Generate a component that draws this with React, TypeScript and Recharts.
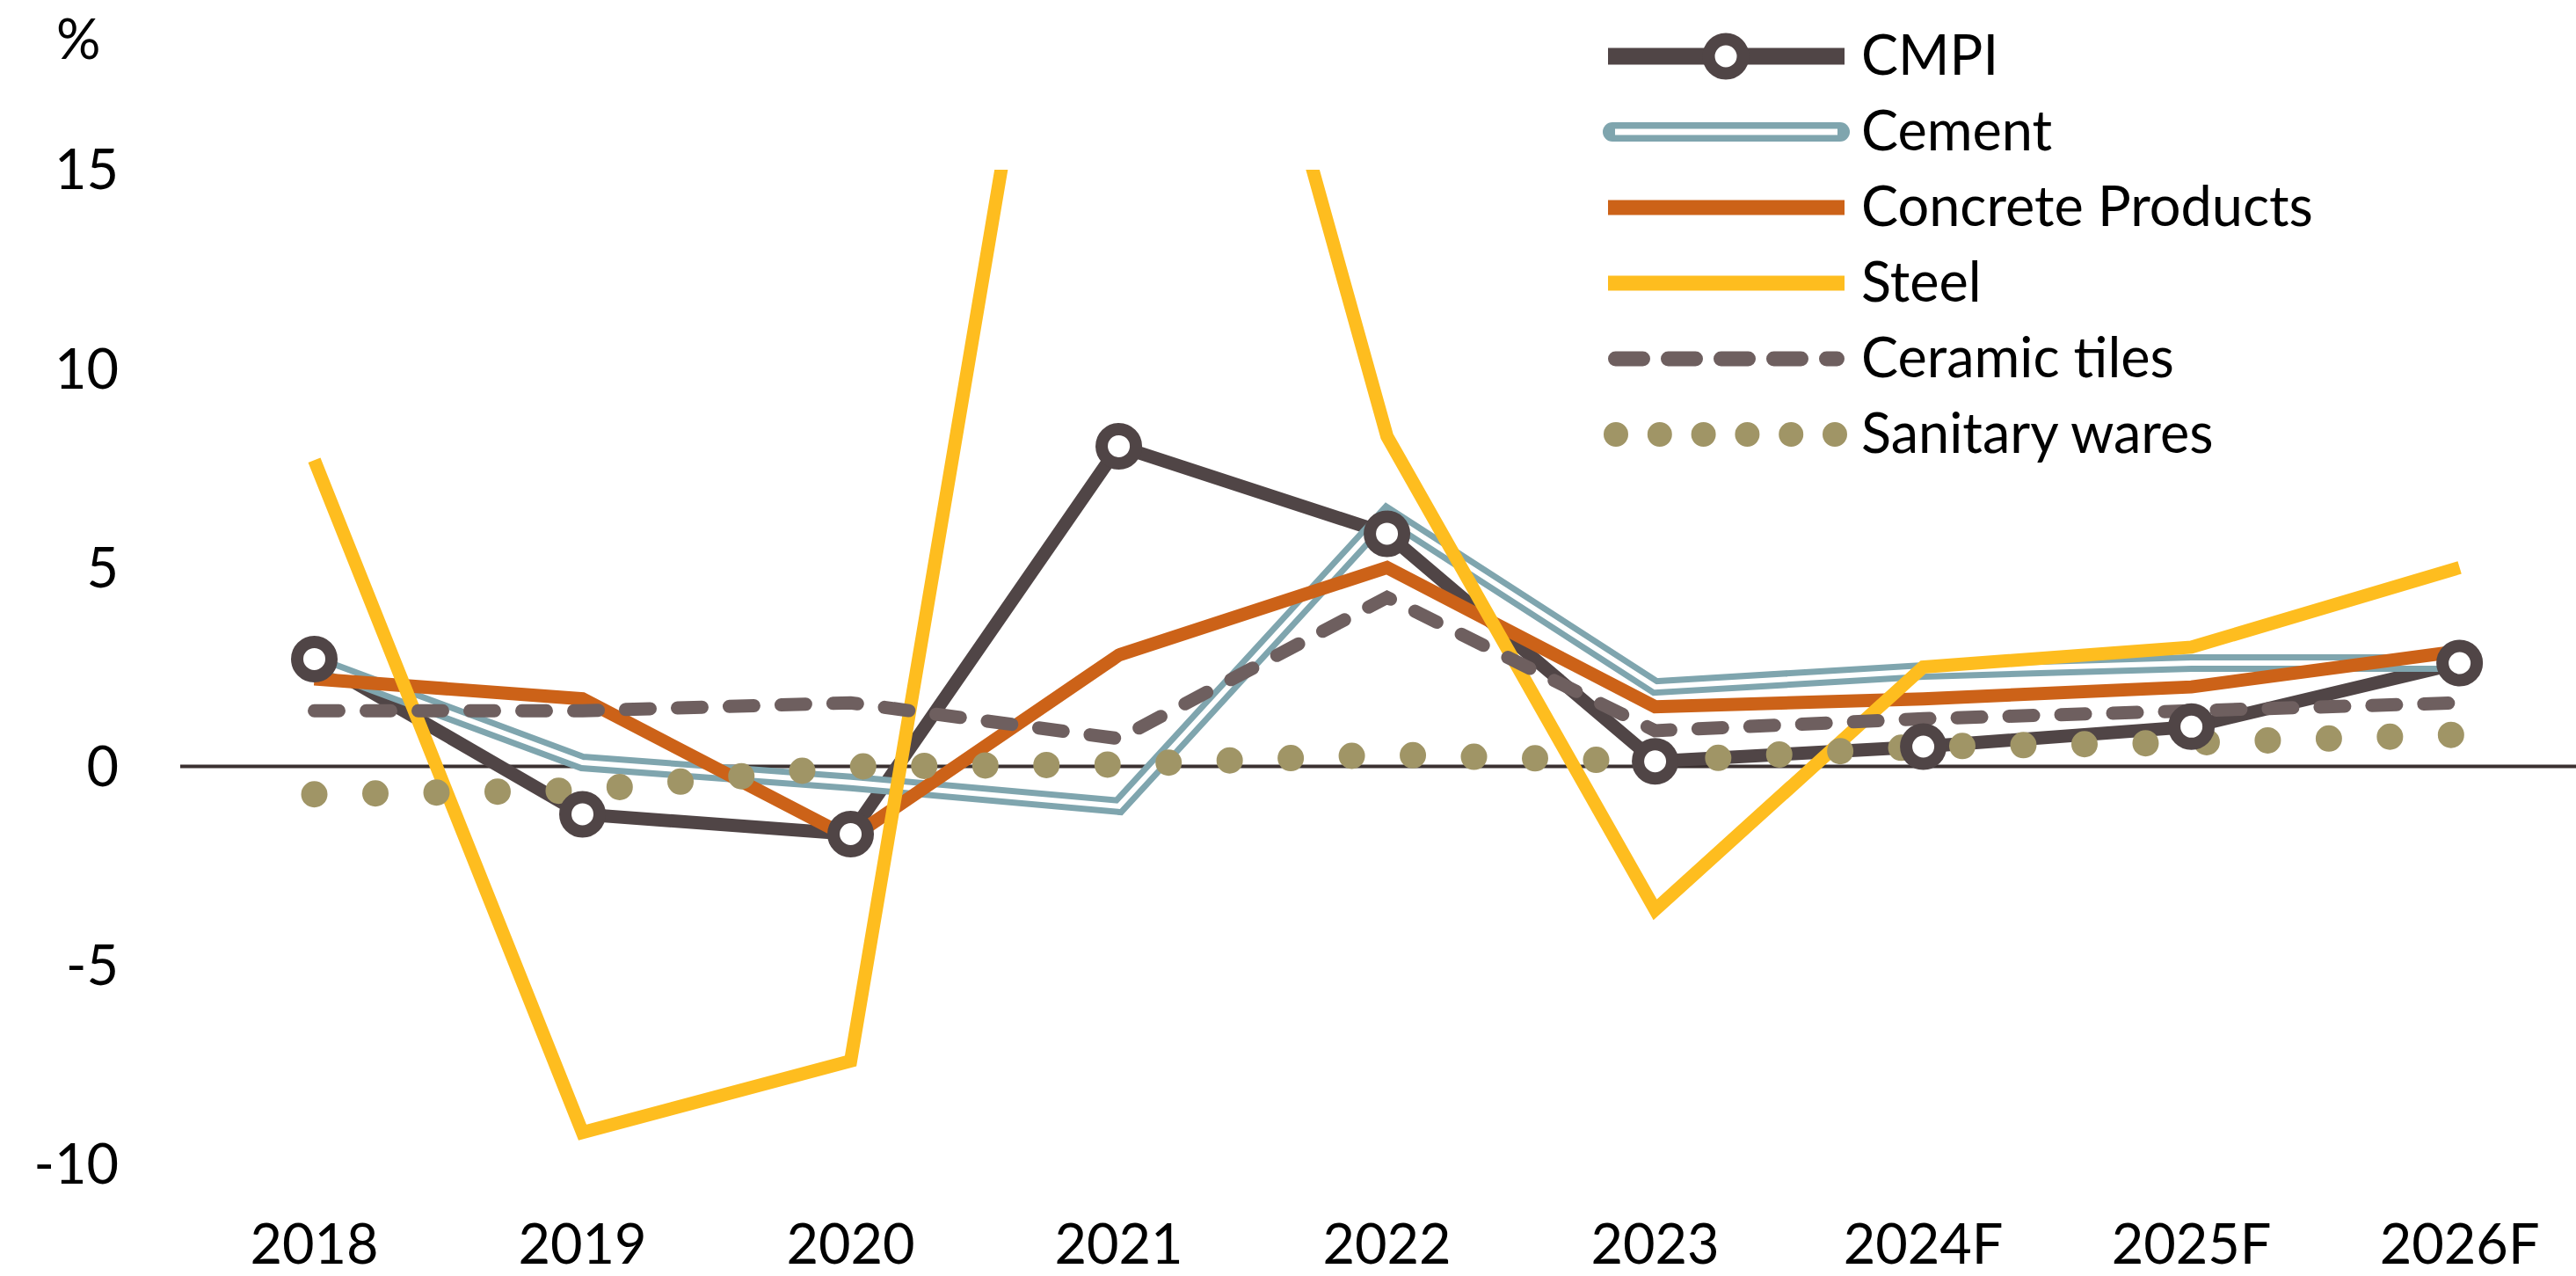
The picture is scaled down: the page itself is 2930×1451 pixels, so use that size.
import { Line, LineChart, ReferenceLine, XAxis, YAxis } from 'recharts';

const YEARS = ['2018', '2019', '2020', '2021', '2022', '2023', '2024F', '2025F', '2026F'];
const CMPI = [2.7, -1.2, -1.7, 8.05, 5.85, 0.13, 0.5, 1.0, 2.6];
const CEMENT = [2.6, 0.1, -0.4, -1.0, 6.35, 2.0, 2.4, 2.6, 2.6];
const CONCRETE = [2.2, 1.7, -1.8, 2.8, 5.0, 1.5, 1.7, 2.0, 2.9];
const STEEL = [7.7, -9.2, -7.4, 32.5, 8.3, -3.6, 2.5, 3.0, 5.0];
const CERAMIC = [1.4, 1.4, 1.6, 0.7, 4.25, 0.9, 1.2, 1.4, 1.6];
const SANITARY = [-0.7, -0.6, 0.0, 0.05, 0.3, 0.13, 0.5, 0.6, 0.8];
const Y_TICKS = [-10, -5, 0, 5, 10, 15];

const C_CMPI = '#504546';
const C_CEMENT = '#7fa5ae';
const C_CONCRETE = '#cc6218';
const C_STEEL = '#febd1f';
const C_CERAMIC = '#6e5f5f';
const C_SANITARY = '#a09566';

const FONT = 'Lato, "Open Sans", sans-serif';
const FONT_SIZE = 63;

const rows = YEARS.map((year, i) => ({
  i,
  year,
  cmpi: CMPI[i],
  cement: CEMENT[i],
  concrete: CONCRETE[i],
  steel: STEEL[i],
  ceramic: CERAMIC[i],
  sanitary: SANITARY[i],
}));

const LEGEND = [
  { key: 'cmpi', label: 'CMPI' },
  { key: 'cement', label: 'Cement' },
  { key: 'concrete', label: 'Concrete Products' },
  { key: 'steel', label: 'Steel' },
  { key: 'ceramic', label: 'Ceramic tiles' },
  { key: 'sanitary', label: 'Sanitary wares' },
];

function LegendSymbol({ kind, y }: { kind: string; y: number }) {
  const x1 = 1829;
  const x2 = 2098;
  switch (kind) {
    case 'cmpi':
      return (
        <g>
          <line x1={x1} x2={x2} y1={y} y2={y} stroke={C_CMPI} strokeWidth={19} />
          <circle cx={1963} cy={y} r={19.5} fill="#fff" stroke={C_CMPI} strokeWidth={14} />
        </g>
      );
    case 'cement':
      return (
        <g>
          <line x1={x1 + 5} x2={x2 - 5} y1={y} y2={y} stroke={C_CEMENT} strokeWidth={22} strokeLinecap="round" />
          <line x1={x1 + 8} x2={x2 - 8} y1={y} y2={y} stroke="#fff" strokeWidth={7} />
        </g>
      );
    case 'concrete':
      return <line x1={x1} x2={x2} y1={y} y2={y} stroke={C_CONCRETE} strokeWidth={17} />;
    case 'steel':
      return <line x1={x1} x2={x2} y1={y} y2={y} stroke={C_STEEL} strokeWidth={17} />;
    case 'ceramic':
      return (
        <line
          x1={x1 + 8.5}
          x2={x2 - 8.5}
          y1={y}
          y2={y}
          stroke={C_CERAMIC}
          strokeWidth={17}
          strokeLinecap="round"
          strokeDasharray="31 29"
        />
      );
    default:
      return (
        <line
          x1={1838}
          x2={2088}
          y1={y}
          y2={y}
          stroke={C_SANITARY}
          strokeWidth={28}
          strokeLinecap="round"
          strokeDasharray="0 49.8"
        />
      );
  }
}

export default function App() {
  return (
    <div style={{ position: 'absolute', left: 0, top: 0, width: 2930, height: 1451, background: '#fff' }}>
      <LineChart width={2930} height={1451} data={rows} margin={{ top: 193, right: 0, bottom: 0, left: 0 }}>
        <XAxis
          type="number"
          dataKey="i"
          domain={[-0.5, 8.434]}
          allowDataOverflow
          ticks={[0, 1, 2, 3, 4, 5, 6, 7, 8]}
          tickFormatter={(v: number) => YEARS[v]}
          height={127}
          axisLine={false}
          tickLine={false}
          tickSize={0}
          tickMargin={68}
          interval={0}
          tick={{ fill: '#000', fontSize: FONT_SIZE, fontFamily: FONT }}
        />
        <YAxis
          type="number"
          domain={[-10, 15]}
          allowDataOverflow
          ticks={Y_TICKS}
          width={205}
          axisLine={false}
          tickLine={false}
          tickSize={0}
          tickMargin={70}
          interval={0}
          tick={{ fill: '#000', fontSize: FONT_SIZE, fontFamily: FONT }}
        />
        <ReferenceLine y={0} stroke="#3b3131" strokeWidth={4} />
        <Line
          dataKey="cmpi"
          stroke={C_CMPI}
          strokeWidth={15}
          dot={{ r: 19.5, fill: '#fff', stroke: C_CMPI, strokeWidth: 14 }}
          activeDot={false}
          isAnimationActive={false}
        />
        <Line dataKey="cement" stroke={C_CEMENT} strokeWidth={20} dot={false} activeDot={false} isAnimationActive={false} />
        <Line dataKey="cement" stroke="#fff" strokeWidth={6} dot={false} activeDot={false} isAnimationActive={false} />
        <Line dataKey="concrete" stroke={C_CONCRETE} strokeWidth={15} dot={false} activeDot={false} isAnimationActive={false} />
        <Line dataKey="steel" stroke={C_STEEL} strokeWidth={15} dot={false} activeDot={false} isAnimationActive={false} />
        <Line
          dataKey="ceramic"
          stroke={C_CERAMIC}
          strokeWidth={15}
          strokeDasharray="28 31"
          strokeLinecap="round"
          dot={false}
          activeDot={false}
          isAnimationActive={false}
        />
        <Line
          dataKey="sanitary"
          stroke={C_SANITARY}
          strokeWidth={30}
          strokeDasharray="0 69.5"
          strokeLinecap="round"
          dot={false}
          activeDot={false}
          isAnimationActive={false}
        />
      </LineChart>
      <svg
        width={2930}
        height={560}
        style={{ position: 'absolute', left: 0, top: 0, pointerEvents: 'none' }}
      >
        <text x={64} y={67} fontFamily={FONT} fontSize={FONT_SIZE} fill="#000">
          %
        </text>
        {LEGEND.map((item, idx) => {
          const cy = 64 + idx * 86;
          return (
            <g key={item.key}>
              <LegendSymbol kind={item.key} y={cy} />
              <text x={2117} y={cy + 21} fontFamily={FONT} fontSize={FONT_SIZE} fill="#000">
                {item.label}
              </text>
            </g>
          );
        })}
      </svg>
    </div>
  );
}
